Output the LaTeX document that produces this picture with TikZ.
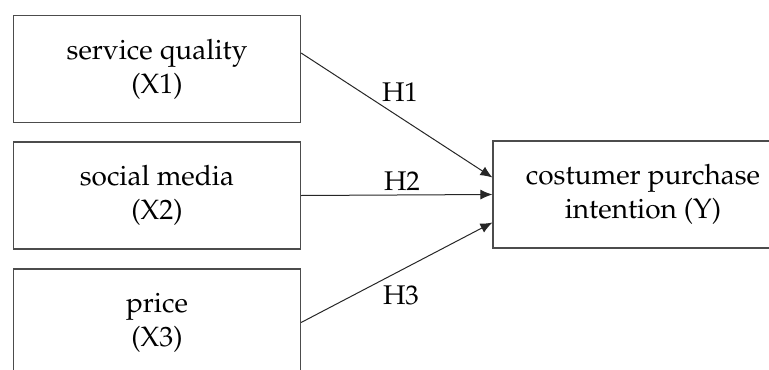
\documentclass[tikz,border=0pt]{standalone}
\usepackage[T1]{fontenc}
\usepackage{mathpazo}
\usetikzlibrary{arrows.meta}

\begin{document}
\begin{tikzpicture}[x=0.5pt,y=-0.5pt,
        varbox/.style={draw=black!70, line width=0.6pt, minimum width=143.5pt, minimum height=53.5pt, inner sep=0pt, align=center, font=\fontsize{14}{17}\selectfont},
        hyp/.style={-{Latex[length=6pt,width=5pt]}, line width=0.5pt, black!85},
        hlabel/.style={inner sep=0pt, font=\fontsize{13.5}{15}\selectfont}]
    \useasboundingbox (0,0) rectangle (769,369);
    \clip (0,0) rectangle (769,369);
    \node[varbox] (sq) at (157,69) {service quality\\(X1)};
    \node[varbox] (sm) at (157,195.5) {social media\\(X2)};
    \node[varbox] (pr) at (157,322.5) {price\\(X3)};
    \node[varbox, minimum width=150pt] (cpi) at (643,194.5) {costumer purchase\\intention (Y)};
    \node[hlabel] (h1) at (400,92) {H1};
    \node[hlabel] (h2) at (402,181) {H2};
    \node[hlabel] (h3) at (401,295) {H3};
    \draw[hyp] ([yshift=8pt]sq.east) -- ([yshift=8.5pt]cpi.west);
    \draw[hyp] (sm.east) -- (cpi.west);
    \draw[hyp] (pr.east) -- ([yshift=-14pt]cpi.west);
\end{tikzpicture}
\end{document}
